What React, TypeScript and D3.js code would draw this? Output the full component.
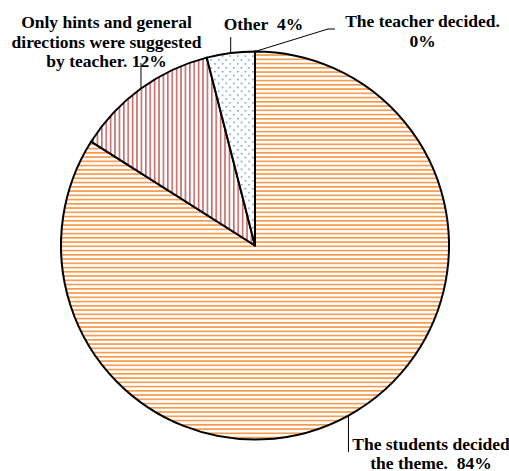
import React from "react";
import * as d3 from "d3";

const categories = [
  "The students decided the theme.",
  "Only hints and general directions were suggested by teacher.",
  "Other",
  "The teacher decided.",
];
const values = [84, 12, 4, 0];
const labelLines = [
  ["The students decided", "the theme.\u00a0\u00a084%"],
  ["Only hints and general", "directions were suggested", "by teacher. 12%"],
  ["Other\u00a0\u00a04%"],
  ["The teacher decided.", "0%"],
];
const patternIds = ["pOrange", "pRed", "pBlue", "pNone"];

const W = 509;
const H = 471;
const cx = 255;
const cy = 245.5;
const R = 194;

const labelPos = [
  { x: 431, y: 450, lh: 18.5 },
  { x: 106.5, y: 28.3, lh: 19.3 },
  { x: 263.5, y: 30, lh: 19 },
  { x: 422.5, y: 27, lh: 20 },
];

export default function App() {
  const pie = d3
    .pie<number>()
    .sort(null)
    .value((d) => d)
    .startAngle(0)
    .endAngle(2 * Math.PI);
  const arcs = pie(values);
  const arc = d3.arc<d3.PieArcDatum<number>>().innerRadius(0).outerRadius(R);

  const edge = (a: number) => [cx + R * Math.sin(a), cy - R * Math.cos(a)];

  const leaders = arcs.map((a, i) => {
    const mid = (a.startAngle + a.endAngle) / 2;
    const [x0, y0] = edge(mid);
    if (i === 0) return `M${x0},${y0}L${x0},452`;
    if (i === 1) return `M${x0},${y0}L${x0},63`;
    if (i === 2) return `M${x0},${y0}L${x0},37`;
    return `M${x0},${y0}L328,29L335,29`;
  });

  return (
    <svg
      width={W}
      height={H}
      style={{ position: "absolute", left: 0, top: 0, background: "#fff", fontFamily: "Liberation Serif" }}
    >
      <defs>
        <pattern id="pOrange" width={8} height={4.25} patternUnits="userSpaceOnUse">
          <rect width={8} height={4.25} fill="#fff" />
          <rect y={0} width={8} height={1.6} fill="#F79646" />
        </pattern>
        <pattern id="pRed" width={4.4} height={8} patternUnits="userSpaceOnUse">
          <rect width={4.4} height={8} fill="#fff" />
          <rect x={0} width={1.6} height={8} fill="#C0504D" opacity={0.85} />
        </pattern>
        <pattern id="pBlue" width={7.6} height={7.8} patternUnits="userSpaceOnUse">
          <rect width={7.6} height={7.8} fill="#fff" />
          <rect x={1} y={1} width={1.4} height={1.4} fill="#4F81BD" />
          <rect x={4.8} y={4.9} width={1.4} height={1.4} fill="#4F81BD" />
        </pattern>
        <pattern id="pNone" width={4} height={4} patternUnits="userSpaceOnUse">
          <rect width={4} height={4} fill="#fff" />
        </pattern>
      </defs>
      <g transform={`translate(${cx},${cy})`}>
        {arcs.map((a, i) => (
          <path
            key={categories[i]}
            d={arc(a) || ""}
            fill={`url(#${patternIds[i]})`}
            stroke="#000"
            strokeWidth={2}
            strokeLinejoin="round"
          />
        ))}
      </g>
      {leaders.map((d, i) => (
        <path key={"l" + i} d={d} fill="none" stroke="#000" strokeWidth={1} />
      ))}
      {labelLines.map((lines, i) =>
        lines.map((ln, j) => (
          <text
            key={"t" + i + "-" + j}
            x={labelPos[i].x}
            y={labelPos[i].y + j * labelPos[i].lh}
            textAnchor="middle"
            fontWeight="bold"
            fontSize={17.5}
            fill="#000"
            style={{ fontFamily: "Liberation Serif" }}
          >
            {ln}
          </text>
        ))
      )}
    </svg>
  );
}
